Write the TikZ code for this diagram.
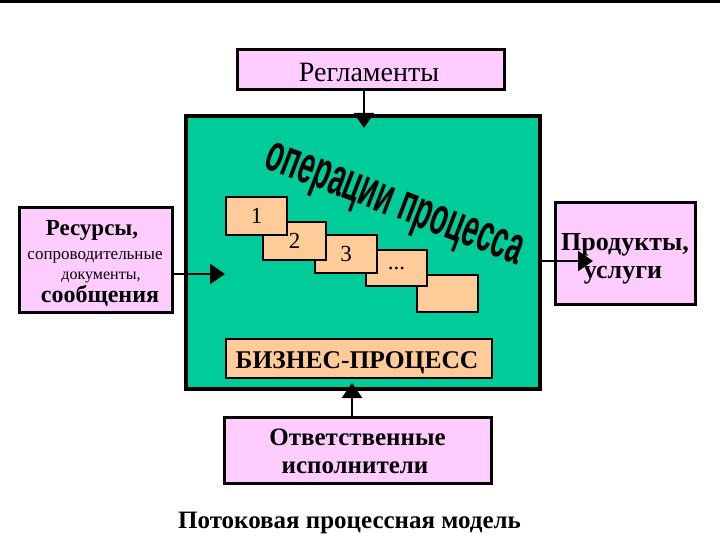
\documentclass[tikz,border=0pt]{standalone}
\usepackage{fontspec}
\setmainfont{Liberation Serif}
\newfontfamily\wafont{Liberation Sans}
\usetikzlibrary{arrows.meta}
\definecolor{grn}{HTML}{00CC99}
\definecolor{pnk}{HTML}{FFCCFF}
\definecolor{pch}{HTML}{FFCC99}
\newcommand\myfs[1]{\fontsize{#1}{#1}\selectfont}
\begin{document}
\begin{tikzpicture}[x=1pt,y=-1pt,
  pinkbox/.style={draw=black, fill=pnk, line width=3pt, inner sep=0pt},
  stepbox/.style={draw=black, fill=pch, line width=1.5pt, minimum width=61pt, minimum height=38pt, inner sep=0pt, font=\myfs{23}},
  flow/.style={line width=2.5pt, -{Triangle[length=15pt,width=20pt]}},
  txt/.style={anchor=base, inner sep=0pt}]
\useasboundingbox (0,0) rectangle (720,540);
\fill[black] (0,0) rectangle (720,3);
% main process box
\node[draw=black, fill=grn, line width=3.5pt, minimum width=354pt, minimum height=273pt, inner sep=0pt] (proc) at (363,252.5) {};
% outer boxes
\node[pinkbox, minimum width=267pt, minimum height=40pt] (reg) at (370.5,70) {};
\node[txt, font=\myfs{28}] (regt) at (369,82) {Регламенты};
\node[pinkbox, minimum width=153pt, minimum height=104pt] (res) at (95.5,260) {};
\node[txt, font=\myfs{23}\bfseries] (res1) at (92,236) {Ресурсы,};
\node[txt, font=\myfs{17}] (res2) at (95,259) {сопроводительные};
\node[txt, font=\myfs{16}] (res3) at (101,279) {документы,};
\node[txt, font=\myfs{24}\bfseries] (res4) at (100,302) {сообщения};
\node[pinkbox, minimum width=140pt, minimum height=101pt] (prod) at (625,253.5) {};
\node[txt, font=\myfs{26}\bfseries] (prod1) at (625,250) {Продукты,};
\node[txt, font=\myfs{26}\bfseries] (prod2) at (623,278) {услуги};
\node[pinkbox, minimum width=267pt, minimum height=66pt] (otv) at (357.5,450) {};
\node[txt, font=\myfs{25}\bfseries] (otv1) at (357.5,445) {Ответственные};
\node[txt, font=\myfs{25}\bfseries] (otv2) at (355,473) {исполнители};
% steps
\node[stepbox, minimum height=37pt] (s5) at (447.5,293.5) {};
\node[stepbox, minimum height=36pt] (s4) at (396.5,268) {...};
\node[stepbox, minimum width=62pt] (s3) at (346,254) {3};
\node[stepbox, minimum width=63pt] (s2) at (294.5,241) {2};
\node[stepbox] (s1) at (256.5,216) {1};
% wordart
\node[rotate=-21, anchor=base, inner sep=0pt] (ops) at (390,216)
  {\scalebox{1}[1.9]{\wafont\bfseries\myfs{28}операции процесса}};
% business process label
\node[draw=black, fill=pch, line width=1.5pt, minimum width=266pt, minimum height=39pt, inner sep=0pt] (biz) at (359,358.5) {};
\node[txt, font=\myfs{25.5}\bfseries] (bizt) at (357,368) {БИЗНЕС-ПРОЦЕСС};
% title
\node[txt, font=\myfs{25}\bfseries] (title) at (349.5,528) {Потоковая процессная модель};
% connectors
\coordinate (regtip) at (364,128);
\coordinate (restip) at (225,274);
\coordinate (prodtip) at (593,261);
\coordinate (otvtip) at (352,383);
\draw[flow] (reg.south -| regtip) -- (regtip);
\draw[flow] (res.east |- restip) -- (restip);
\draw[flow] (proc.east |- prodtip) -- (prodtip);
\draw[flow] (otv.north -| otvtip) -- (otvtip);
\end{tikzpicture}
\end{document}
